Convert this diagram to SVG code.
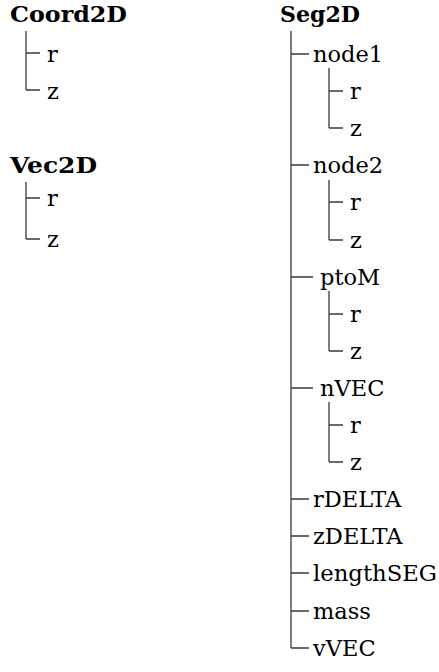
<svg xmlns="http://www.w3.org/2000/svg" width="439" height="672" viewBox="0 0 439 672">
<style>
text{font-family:'DejaVu Serif','Liberation Serif','Noto Serif',serif;font-size:22.5px;fill:#000}
.h{font-weight:bold;font-size:23px}
.c{stroke:#3a3a3a;stroke-width:1.3;fill:none}
</style>
<rect width="439" height="672" fill="#fff"/>
<g id="connectors">
<path class="c" d="M26,31V90M26,53H40M26,90H40"/>
<path class="c" d="M26,182V239M26,198H40M26,239H40"/>
<path class="c" d="M291,31V648M291,54H309M291,165H309M291,277H313M291,388H313M291,499H309M291,536H309M291,573H309M291,611H309M291,648H309"/>
<path class="c" d="M329,68V128M329,91H343M329,128H343"/>
<path class="c" d="M329,180V240M329,202H343M329,240H343"/>
<path class="c" d="M329,291V351M329,314H343M329,351H343"/>
<path class="c" d="M329,402V462M329,425H343M329,462H343"/>
</g>
<g id="coord2d"><text class="h" x="10" y="22" textLength="117" lengthAdjust="spacingAndGlyphs">Coord2D</text></g>
<g id="coord2d-r"><text x="47" y="62">r</text></g>
<g id="coord2d-z"><text x="47" y="99">z</text></g>
<g id="vec2d"><text class="h" x="10" y="173" textLength="87" lengthAdjust="spacingAndGlyphs">Vec2D</text></g>
<g id="vec2d-r"><text x="47" y="206">r</text></g>
<g id="vec2d-z"><text x="47" y="247">z</text></g>
<g id="seg2d"><text class="h" x="280" y="22" textLength="80" lengthAdjust="spacingAndGlyphs">Seg2D</text></g>
<g id="node1"><text x="313" y="62">node1</text></g>
<g id="node1-r"><text x="350" y="99">r</text></g>
<g id="node1-z"><text x="350" y="136">z</text></g>
<g id="node2"><text x="313" y="173">node2</text></g>
<g id="node2-r"><text x="350" y="210">r</text></g>
<g id="node2-z"><text x="350" y="248">z</text></g>
<g id="ptoM"><text x="320" y="285">ptoM</text></g>
<g id="ptoM-r"><text x="350" y="322">r</text></g>
<g id="ptoM-z"><text x="350" y="359">z</text></g>
<g id="nVEC"><text x="320" y="396">nVEC</text></g>
<g id="nVEC-r"><text x="350" y="433">r</text></g>
<g id="nVEC-z"><text x="350" y="470">z</text></g>
<g id="rDELTA"><text x="313" y="507">rDELTA</text></g>
<g id="zDELTA"><text x="313" y="544">zDELTA</text></g>
<g id="lengthSEG"><text x="313" y="581" textLength="124" lengthAdjust="spacingAndGlyphs">lengthSEG</text></g>
<g id="mass"><text x="313" y="619">mass</text></g>
<g id="vVEC"><text x="313" y="656">vVEC</text></g>
</svg>
